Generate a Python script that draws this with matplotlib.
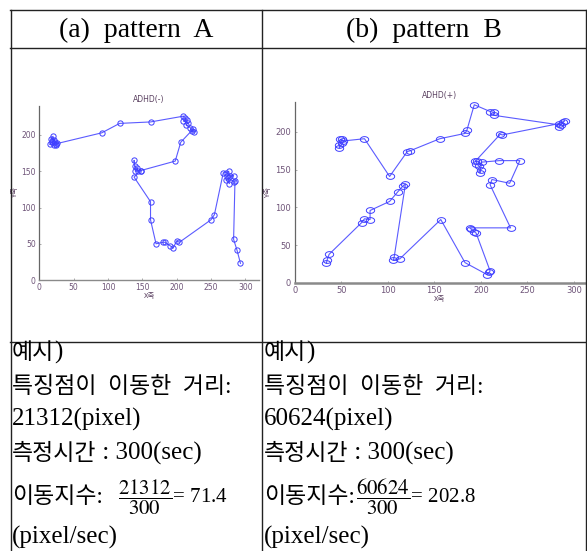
import numpy as np
import matplotlib
matplotlib.use("Agg")
import matplotlib.pyplot as plt
from matplotlib.lines import Line2D
from matplotlib.path import Path

plt.rcParams['mathtext.fontset'] = 'stix'

W, H = 587, 551

# ---------------- data ----------------
headers = ["(a)  pattern  A", "(b)  pattern  B"]
titles = ["ADHD(-)", "ADHD(+)"]
distances = [21312, 60624]
duration = 300
indices = ["71.4", "202.8"]

A_x = [20, 17, 22, 18, 15, 21, 19, 23, 26, 24, 25,
       91, 117, 162,
       210, 212, 215, 210, 217, 214, 220, 222, 226, 224,
       206, 198,
       148, 144, 142, 139, 138, 140, 148, 138,
       162, 162, 170, 180, 183, 191, 195, 200, 204, 250, 255,
       268, 272, 276, 273, 278, 283, 272, 277, 275, 284, 285,
       283, 288, 293]
A_y = [198, 195, 193, 190, 187, 186, 192, 191, 189, 186, 188,
       203, 216, 218,
       226, 224, 221, 219, 217, 214, 210, 205, 204, 208,
       190, 164,
       151, 151, 155, 157, 165, 150, 151, 142,
       108, 83, 50, 52, 52, 47, 44, 54, 52, 83, 90,
       148, 148, 150, 144, 144, 144, 138, 133, 141, 135, 137,
       56, 41, 23]

B_x = [34, 35, 37, 72, 75, 81, 81, 102, 111, 116, 119,
       107, 106, 113, 157, 183, 207, 209, 210,
       195, 193, 190, 188, 232, 210, 212, 231, 242, 220,
       201, 199, 200, 198, 195, 196, 194, 221, 223,
       284, 288, 290, 284, 286, 214, 214, 210, 193, 185, 183, 156,
       124, 121, 102, 75, 52, 49, 51, 48, 48, 51]
B_y = [26, 31, 38, 80, 85, 84, 96, 108, 121, 128, 131,
       35, 30, 32, 84, 27, 11, 14, 16,
       66, 68, 71, 73, 73, 130, 137, 132, 162, 162,
       160, 146, 150, 155, 158, 162, 161, 197, 196,
       211, 213, 215, 207, 209, 222, 226, 227, 236, 202, 198, 191,
       175, 174, 141, 191, 188, 190, 190, 183, 179, 185]

# ---------------- figure ----------------
fig = plt.figure(figsize=(W / 100, H / 100), dpi=100)
fig.patch.set_facecolor('white')
renderer = fig.canvas.get_renderer()

def fx(x):
    return x / W

def fy(y):
    return 1 - y / H

def hline(y, x0, x1, lw=1.0):
    fig.add_artist(Line2D([fx(x0), fx(x1)], [fy(y), fy(y)], color='#222222', lw=lw))

def vline(x, y0, y1, lw=1.0):
    fig.add_artist(Line2D([fx(x), fx(x)], [fy(y0), fy(y1)], color='#222222', lw=lw))

# table grid
hline(10, 10, 586)
hline(48, 10, 586)
hline(342, 10, 586)
vline(10.5, 10, 551)
vline(262, 10, 551)
vline(585.5, 10, 551)

serif_kr = ['Liberation Serif', 'Noto Sans CJK KR']
kr = ['Noto Sans CJK KR', 'DejaVu Sans']

fig.text(fx(136), fy(30), headers[0], ha='center', va='center', fontsize=20, family=serif_kr)
fig.text(fx(424), fy(30), headers[1], ha='center', va='center', fontsize=20, family=serif_kr)

tick_col = '#6e5478'
ax_col = '#8a8a8a'
line_col = '#5b5bff'
mk_col = '#3f3fff'

t = np.linspace(0, 2 * np.pi, 33)
ellipse = Path(np.column_stack([1.45 * np.cos(t), np.sin(t)]), closed=True)

def make_ax(rect, xs, ys, title, xmax, marker, ms, xlw, lsize, ylpad):
    ax = fig.add_axes(rect)
    ax.plot(xs, ys, '-', color=line_col, lw=0.8, marker=marker, ms=ms,
            mfc='none', mec=mk_col, mew=0.7)
    ax.set_xlim(0, xmax)
    ax.set_ylim(0, 240)
    ax.set_xticks([0, 50, 100, 150, 200, 250, 300])
    ax.set_yticks([0, 50, 100, 150, 200])
    for s in ['top', 'right']:
        ax.spines[s].set_visible(False)
    ax.spines['left'].set_color('#666666')
    ax.spines['left'].set_linewidth(0.9)
    ax.spines['bottom'].set_color(ax_col)
    ax.spines['bottom'].set_linewidth(xlw)
    ax.tick_params(direction='in', length=1.5, width=0.5, colors=ax_col,
                   labelsize=lsize, labelcolor=tick_col, pad=2.5)
    ax.set_title(title, fontsize=5.5, color='#5a4060', pad=3)
    ax.set_xlabel('X축', fontsize=5.5, family=kr, color='#5a4060', labelpad=0)
    ax.set_ylabel('Y축', fontsize=5.5, family=kr, color='#5a4060', labelpad=ylpad)
    return ax

axA = make_ax([fx(39.3), fy(280), (259 - 39.3) / W, (280 - 106) / H],
              A_x, A_y, titles[0], 320, 'o', 3.8, 1.0, 5.5, 1.5)
axB = make_ax([fx(294.7), fy(283), (585 - 294.7) / W, (283 - 101.7) / H],
              B_x, B_y, titles[1], 312, ellipse, 6, 1.8, 6, 2.5)

KSIZE = 16.5
LSIZE = 18

def mixed(x0, y, parts):
    """Draw consecutive text pieces: (string, size)."""
    x = x0
    for s, size in parts:
        tt = fig.text(fx(x), fy(y), s, ha='left', va='baseline', fontsize=size, family=serif_kr)
        bb = tt.get_window_extent(renderer=renderer)
        x += bb.width
    return x

# text rows
cols = [12, 264]
for i, x0 in enumerate(cols):
    mixed(x0, 359, [("예시", KSIZE), (")", LSIZE)])
    mixed(x0, 393, [("특징점이  이동한  거리:", KSIZE)])
    mixed(x0, 426, [(f"{distances[i]}(pixel)", LSIZE)])
    mixed(x0, 460, [("측정시간", KSIZE), (f" : {duration}(sec)", LSIZE)])
    mixed(x0, 503, [("이동지수:", KSIZE)])
    fracx = x0 + (106 if i == 0 else 92)
    fig.text(fx(fracx), fy(497),
             r"$\dfrac{%d}{%d}$= %s" % (distances[i], duration, indices[i]),
             ha='left', va='center', fontsize=15, family='Liberation Serif')
    mixed(x0, 544, [("(pixel/sec)", LSIZE)])

fig.savefig('out.png', dpi=100, facecolor='white')
